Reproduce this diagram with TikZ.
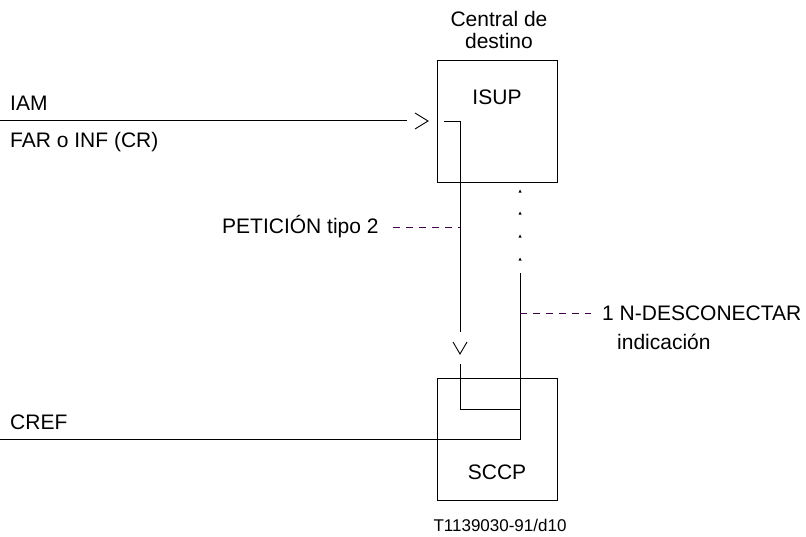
\documentclass[tikz,border=0pt]{standalone}
\usepackage{fontspec}
\setmainfont{Liberation Sans}
\begin{document}
\begin{tikzpicture}[x=1pt,y=-1pt,
  every node/.style={font=\fontsize{21}{25}\selectfont, inner sep=0pt},
  blockbox/.style={draw, line width=1pt, minimum width=120pt, minimum height=122pt, anchor=north west},
  sigline/.style={line width=0.9pt},
  chevron/.style={line width=0.9pt, line join=miter},
  leader/.style={line width=0.9pt, draw={rgb,255:red,64;green,0;blue,72}, dash pattern=on 7pt off 6pt},
  tick/.style={fill=black}]
\useasboundingbox (0,0) rectangle (806,536);

% exchange blocks
\node[blockbox] (isup) at (437,60) {};
\node at (497,97) (isuplbl) {ISUP};
\node[blockbox] (sccp) at (437,378) {};
\node at (497,472) (sccplbl) {SCCP};
\node[align=center, font=\fontsize{21}{22}\selectfont] (central) at (499,30) {Central de\\destino};

% incoming messages
\node[anchor=west] (iam) at (10,103) {IAM};
\node[anchor=west] (far) at (10,142) {FAR o INF (CR)};
\node[anchor=west] (cref) at (10,422) {CREF};

\coordinate (iamstart) at (0,120);
\coordinate (iamend) at (407,120);
\draw[sigline] (iamstart) -- (iamend);
\coordinate (chevA) at (428,121);
\draw[chevron] (415,113) -- (chevA) -- (415,129);

% request path through ISUP down to SCCP
\coordinate (reqA) at (444,121);
\coordinate (reqB) at (460,121);
\coordinate (reqC) at (460,332);
\draw[sigline] (reqA) -- (reqB) -- (reqC);
\coordinate (chevB) at (460,354);
\draw[chevron] (453,342) -- (chevB) -- (467,342);
\coordinate (reqD) at (460,364);
\coordinate (reqE) at (460,409);
\coordinate (reqF) at (520,409);
\draw[sigline] (reqD) -- (reqE) -- (reqF);

% CREF path up to the indication
\coordinate (crefstart) at (0,439);
\coordinate (crefB) at (520,439);
\coordinate (indtop) at (520,273);
\draw[sigline] (crefstart) -- (crefB) -- (indtop);

% dotted continuation towards ISUP
\foreach \yy in {191,213,236,259}
  \fill[tick] (518.5,\yy+1.5) -- (520,\yy-1.5) -- (521.5,\yy+1.5) -- cycle;

% labels with leader lines
\node[anchor=west] (pet) at (222,227) {PETICIÓN tipo 2};
\coordinate (petend) at (460,227);
\draw[leader] (393,227) -- (petend);

\coordinate (discstart) at (520,313);
\coordinate (discend) at (591,313);
\draw[leader] (discstart) -- (discend);
\node[anchor=west] (disc) at (602,313) {1 N-DESCONECTAR};
\node[anchor=west] (ind) at (617,342) {indicación};

\node[font=\fontsize{17}{20}\selectfont] (ref) at (500,525) {T1139030-91/d10};
\end{tikzpicture}
\end{document}
